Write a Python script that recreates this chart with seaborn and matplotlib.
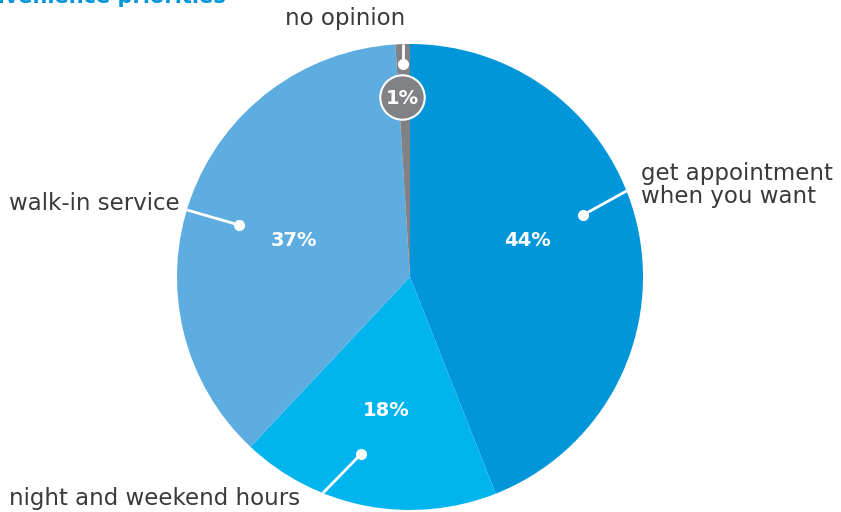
import matplotlib
matplotlib.use("Agg")
import matplotlib.pyplot as plt
import seaborn as sns

sns.set_theme(style="white")
plt.rcParams['font.family'] = ['DejaVu Sans']

categories = ["get appointment\nwhen you want", "night and weekend hours",
              "walk-in service", "no opinion"]
shares = [44, 18, 37, 1]
pct_labels = ["44%", "18%", "37%", "1%"]
colors = ["#0096D9", "#00B4EE", "#5DADE0", "#808285"]

W, H = 841, 512
fig = plt.figure(figsize=(W / 100, H / 100), dpi=100)
ax = fig.add_axes([0, 0, 1, 1])

cx, cy, R = 410, 277, 233
wedges, _ = ax.pie(shares, colors=colors, startangle=90, counterclock=False,
                   center=(cx, cy), radius=R, frame=True,
                   wedgeprops=dict(linewidth=0))
ax.set_xlim(0, W)
ax.set_ylim(H, 0)
ax.set_aspect("equal")
ax.axis("off")

# the pie is drawn in a y-down frame, so mirror angles accordingly
for w in wedges:
    t1, t2 = w.theta1, w.theta2
    w.set_theta1(-t2)
    w.set_theta2(-t1)

# percentage labels inside slices
pct_pos = [(527, 240), (386, 410), (294, 240)]
for (x, y), lab in zip(pct_pos, pct_labels[:3]):
    ax.text(x, y, lab, color="white", fontsize=14, fontweight="bold",
            ha="center", va="center")

# leader lines with dots
leaders = [((583, 215), (641, 183)), ((361, 454), (323, 493)),
           ((239, 225), (187, 210)), ((403, 64), (403, 44))]
for (x0, y0), (x1, y1) in leaders:
    ax.plot([x0, x1], [y0, y1], color="white", lw=2, solid_capstyle="butt", zorder=5)
    ax.plot(x0, y0, "o", color="white", ms=7, zorder=6)

# small slice badge
ax.plot(402, 97, "o", ms=32, color=colors[3], mec="white", mew=1.5, zorder=7)
ax.text(402, 98, pct_labels[3], color="white", fontsize=14, fontweight="bold",
        ha="center", va="center", zorder=8)

# category labels
txt = dict(color="#3a3a3a", fontsize=16.5)
ax.text(641, 185, categories[0], ha="left", va="center", linespacing=1.0, **txt)
ax.text(9, 499, categories[1], ha="left", va="center", **txt)
ax.text(9, 203, categories[2], ha="left", va="center", **txt)
ax.text(405, 18, categories[3], ha="right", va="center", **txt)

# title, running off the top-left edge
ax.text(226, -3, "convenience priorities", ha="right", va="center",
        color="#0096D9", fontsize=15, fontweight="bold")

fig.savefig("out.png", dpi=100)
